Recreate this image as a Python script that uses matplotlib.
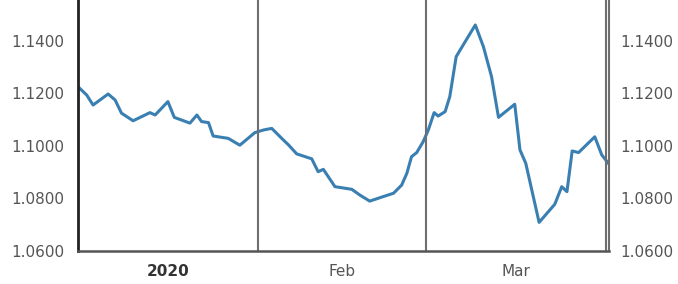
import matplotlib.pyplot as plt

# days since 1 Jan 2020 and EUR/USD-style rate
days = [0.0, 1.5, 2.6, 5.2, 6.4, 7.5, 9.5, 12.4, 13.3, 15.5, 16.6, 19.3, 20.5,
        21.3, 22.5, 23.3, 25.9, 27.9, 30.5, 32.0, 33.4, 35.4, 36.3, 37.7, 40.3,
        41.4, 42.3, 44.3, 47.2, 48.6, 50.3, 52.6, 54.4, 55.8, 56.7, 57.5, 58.4,
        59.5, 60.4, 61.4, 62.1, 63.3, 64.1, 65.2, 65.9, 68.5, 69.9, 71.3, 72.5,
        75.3, 76.2, 77.2, 79.5, 82.2, 83.4, 84.3, 85.2, 86.3, 89.1, 90.3, 91.55]
rate = [1.1226, 1.1194, 1.1156, 1.1198, 1.1175, 1.1125, 1.1096, 1.1127, 1.1118,
        1.1169, 1.1109, 1.1087, 1.1118, 1.1093, 1.1089, 1.1038, 1.1029, 1.1003,
        1.1051, 1.1061, 1.1067, 1.1023, 1.1004, 1.0970, 1.0951, 1.0902, 1.0911,
        1.0845, 1.0835, 1.0813, 1.0790, 1.0807, 1.0820, 1.0851, 1.0896, 1.0959,
        1.0975, 1.1016, 1.1061, 1.1127, 1.1114, 1.1131, 1.1188, 1.1340, 1.1366,
        1.1461, 1.1378, 1.1264, 1.1109, 1.1159, 1.0985, 1.0934, 1.0709, 1.0778,
        1.0845, 1.0826, 1.0981, 1.0975, 1.1035, 1.0966, 1.0931]

month_starts = [31, 60, 91]
month_label_pos = [15.5, 45.5, 75.5]
month_labels = ["2020", "Feb", "Mar"]
yticks = [1.06, 1.08, 1.10, 1.12, 1.14]
ylim = (1.06, 1.1556)

fig = plt.figure(figsize=(6.78, 2.84), dpi=100)
ax = fig.add_axes([78/678, 33/284, (609-78)/678, 251/284])

ax.plot(days, rate, color="#3a7fb2", lw=2.2, solid_joinstyle="round")

for d in month_starts:
    ax.axvline(d, color="#6f6f6f", lw=1.5)

ax.set_xlim(0, 91.55)
ax.set_ylim(*ylim)

ylabels = [f"{v:.4f}" for v in yticks]
ax.set_yticks(yticks)
ax.set_yticklabels(ylabels)
ax.tick_params(axis="y", length=0, labelsize=11, labelcolor="#555555", pad=10)

ax2 = ax.twinx()
ax2.set_ylim(*ylim)
ax2.set_yticks(yticks)
ax2.set_yticklabels(ylabels)
ax2.tick_params(axis="y", length=0, labelsize=11, labelcolor="#555555", pad=8)
for s in ax2.spines.values():
    s.set_visible(False)

ax.set_xticks(month_label_pos)
ax.set_xticklabels(month_labels)
ax.tick_params(axis="x", length=0, labelsize=11, labelcolor="#555555", pad=9)
ax.get_xticklabels()[0].set_fontweight("bold")
ax.get_xticklabels()[0].set_color("#333333")

ax.spines["top"].set_visible(False)
ax.spines["left"].set_color("#222222")
ax.spines["left"].set_linewidth(2)
ax.spines["bottom"].set_color("#555555")
ax.spines["bottom"].set_linewidth(1.8)
ax.spines["right"].set_color("#6f6f6f")
ax.spines["right"].set_linewidth(1.5)

fig.savefig("out.png", dpi=100)
